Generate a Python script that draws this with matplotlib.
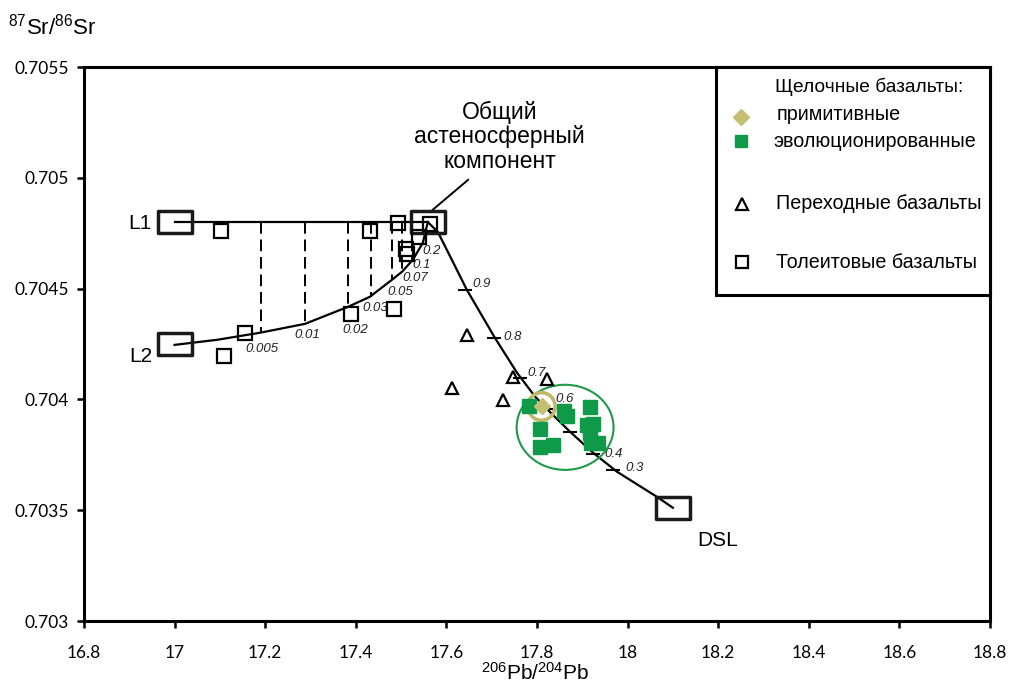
import matplotlib
matplotlib.use("Agg")
import matplotlib.pyplot as plt
from matplotlib.patches import Ellipse, Rectangle
from matplotlib.path import Path

plt.rcParams['font.family'] = ['Liberation Sans', 'DejaVu Sans']
plt.rcParams['mathtext.fontset'] = 'custom'
plt.rcParams['mathtext.rm'] = 'Liberation Sans'
plt.rcParams['mathtext.it'] = 'Liberation Sans:italic'

# --- end members -----------------------------------------------------------
end_names = ['L1', 'L2', 'common', 'DSL']
end_x = [17.00, 17.00, 17.559, 18.10]
end_y = [0.70480, 0.70425, 0.70480, 0.70351]

# --- mixing curve L2 -> common component ----------------------------------
l2_curve_x = [17.000, 17.094, 17.189, 17.288, 17.383, 17.431, 17.480, 17.502, 17.526, 17.548, 17.559]
l2_curve_y = [0.704246, 0.704269, 0.704301, 0.704341, 0.704418, 0.704463, 0.704540, 0.704576, 0.704630, 0.704707, 0.704800]

# mixing proportions marked on the L2 curve
mix_labels = ['0.005', '0.01', '0.02', '0.03', '0.05', '0.07', '0.1', '0.2']
mix_x = [17.191, 17.288, 17.383, 17.433, 17.480, 17.502, 17.523, 17.548]
mix_y = [0.704301, 0.704341, 0.704418, 0.704463, 0.704540, 0.704576, 0.704630, 0.704707]

# --- mixing curve common component -> DSL ---------------------------------
dsl_curve_x = [17.559, 17.581, 17.612, 17.645, 17.707, 17.756, 17.796, 17.835, 17.873, 17.924, 17.977, 18.065, 18.100]
dsl_curve_y = [0.704800, 0.704756, 0.704630, 0.704495, 0.704278, 0.704120, 0.704012, 0.703930, 0.703854, 0.703759, 0.703673, 0.703560, 0.703511]

dsl_labels = ['0.9', '0.8', '0.7', '0.6', '', '0.4', '0.3']
dsl_tick_x = [17.641, 17.705, 17.762, 17.822, 17.873, 17.924, 17.968]
dsl_tick_y = [0.704495, 0.704278, 0.704097, 0.703958, 0.703854, 0.703755, 0.703682]

# --- samples ---------------------------------------------------------------
prim_x = [17.810]
prim_y = [0.703968]

evol_x = [17.783, 17.860, 17.867, 17.917, 17.807, 17.807, 17.835, 17.911, 17.923, 17.917, 17.919, 17.935]
evol_y = [0.703968, 0.703949, 0.703927, 0.703965, 0.703866, 0.703783, 0.703795, 0.703885, 0.703890, 0.703848, 0.703803, 0.703803]

trans_x = [17.645, 17.613, 17.726, 17.748, 17.821]
trans_y = [0.704292, 0.704051, 0.703998, 0.704103, 0.704093]

thol_x = [17.102, 17.155, 17.108, 17.389, 17.431, 17.485, 17.494, 17.511, 17.513, 17.540, 17.564]
thol_y = [0.704758, 0.704299, 0.704194, 0.704386, 0.704762, 0.704407, 0.704796, 0.704678, 0.704657, 0.704732, 0.704792]

x_ticks = [16.8, 17.0, 17.2, 17.4, 17.6, 17.8, 18.0, 18.2, 18.4, 18.6, 18.8]
x_ticklabels = ['16.8', '17', '17.2', '17.4', '17.6', '17.8', '18', '18.2', '18.4', '18.6', '18.8']
y_ticks = [0.7030, 0.7035, 0.7040, 0.7045, 0.7050, 0.7055]
y_ticklabels = ['0.703', '0.7035', '0.704', '0.7045', '0.705', '0.7055']

legend_title = 'Щелочные базальты:'
legend_labels = ['примитивные', 'эволюционированные', 'Переходные базальты', 'Толеитовые базальты']

GREEN = '#0f9a4a'
OLIVE = '#c4bf72'

fig = plt.figure(figsize=(10.10, 6.85), dpi=100)
ax = fig.add_axes([84 / 1010, 64 / 685, 906 / 1010, 554 / 685])
ax.set_xlim(16.8, 18.8)
ax.set_ylim(0.7030, 0.7055)

for s in ax.spines.values():
    s.set_linewidth(2.2)
ax.tick_params(direction='out', length=5, width=1.8)
ax.tick_params(axis='x', pad=12)
ax.tick_params(axis='y', pad=6)
ax.set_xticks(x_ticks)
ax.set_xticklabels(x_ticklabels, family='Lato', fontsize=12.5)
ax.set_yticks(y_ticks)
ax.set_yticklabels(y_ticklabels, family='Lato', fontsize=12.5)

# wide open box marker for end members
box = Path([(-0.78, -0.5), (0.78, -0.5), (0.78, 0.5), (-0.78, 0.5), (-0.78, -0.5)],
           [Path.MOVETO, Path.LINETO, Path.LINETO, Path.LINETO, Path.CLOSEPOLY])

LW = 1.6
# L1 -> common component
ax.plot([end_x[0], end_x[2]], [end_y[0], end_y[2]], color='black', lw=LW, zorder=2)
# L2 -> common component
ax.plot(l2_curve_x, l2_curve_y, color='black', lw=LW, zorder=2)
# common component -> DSL
ax.plot(dsl_curve_x, dsl_curve_y, color='black', lw=LW, zorder=2)

# dashed mixing proportion lines between L1 line and L2 curve
for lab, mx, my in zip(mix_labels[:-1], mix_x[:-1], mix_y[:-1]):
    ax.plot([mx, mx], [end_y[0], my], color='black', lw=1.4, ls=(0, (6, 3)), zorder=2)

mix_offsets = [(1, -16), (2, -11), (7, -23), (5, -11), (8, -12), (13, -6), (10, -5), (9, -8)]
for lab, mx, my, off in zip(mix_labels, mix_x, mix_y, mix_offsets):
    ax.annotate(lab, (mx, my), xytext=off, textcoords='offset pixels',
                ha='center', va='center', fontsize=9.5, style='italic', color='#222222')

# proportion ticks on DSL curve
ax.plot(dsl_tick_x, dsl_tick_y, ls='none', marker='_', ms=10, mew=1.5, color='black', zorder=3)
dsl_offsets = [(17, 6), (19, 1), (17, 5), (18, 10), (0, 0), (20, 0), (22, 2)]
for lab, tx, ty, off in zip(dsl_labels, dsl_tick_x, dsl_tick_y, dsl_offsets):
    if lab:
        ax.annotate(lab, (tx, ty), xytext=off, textcoords='offset pixels',
                    ha='center', va='center', fontsize=9.5, style='italic', color='#222222')

# end member boxes
ax.plot(end_x, end_y, ls='none', marker=box, ms=24, mew=2.5, mfc='none', mec='#1a1a1a', zorder=4)

# field outlines
ax.add_patch(Ellipse((17.862, 0.703874), 0.214, 0.000384, fill=False, ec='#1e9a48', lw=1.5, zorder=3))
ax.add_patch(Ellipse((17.810, 0.703968), 0.060, 0.000125, fill=False, ec='#bdb86a', lw=2.6, zorder=3))

# samples
ax.plot(evol_x, evol_y, ls='none', marker='s', ms=9.5, mfc=GREEN, mec=GREEN, zorder=5)
ax.plot(prim_x, prim_y, ls='none', marker='D', ms=8.5, mfc=OLIVE, mec=OLIVE, zorder=6)
ax.plot(trans_x, trans_y, ls='none', marker='^', ms=8.5, mfc='none', mec='black', mew=1.6, zorder=5)
ax.plot(thol_x, thol_y, ls='none', marker='s', ms=9.5, mfc='none', mec='black', mew=1.6, zorder=5)

# end member labels
ax.text(16.95, 0.704792, 'L1', ha='right', va='center', fontsize=15)
ax.text(16.95, 0.704192, 'L2', ha='right', va='center', fontsize=15)
ax.text(18.153, 0.703362, 'DSL', ha='left', va='center', fontsize=15)
ax.text(17.718, 0.705185, 'Общий\nастеносферный\nкомпонент', ha='center', va='center',
        multialignment='center', fontsize=16.5, linespacing=1.08)
ax.plot([17.648, 17.570], [0.704991, 0.704856], color='black', lw=1.4, zorder=2)

# legend panel
ax.add_patch(Rectangle((0.6976, 0.5884), 0.3024, 0.4116, transform=ax.transAxes,
                       fill=True, fc='white', ec='black', lw=2.2, zorder=7, clip_on=False))
ax.text(0.7627, 0.9639, legend_title, transform=ax.transAxes, ha='left', va='center',
        fontsize=13.8, zorder=8)
leg_marker_x = [0.7252, 0.7252, 0.7263, 0.7263]
leg_marker_y = [0.9097, 0.8664, 0.7527, 0.6480]
leg_text_x = [0.7649, 0.7605, 0.7638, 0.7638]
leg_text_y = [0.9134, 0.8664, 0.7545, 0.6480]
leg_styles = [dict(marker='D', ms=8.5, mfc=OLIVE, mec=OLIVE),
              dict(marker='s', ms=8.5, mfc=GREEN, mec=GREEN),
              dict(marker='^', ms=8, mfc='none', mec='black', mew=1.6),
              dict(marker='s', ms=9, mfc='none', mec='black', mew=1.6)]
for mxp, myp, tx, ty, lab, st in zip(leg_marker_x, leg_marker_y, leg_text_x, leg_text_y,
                                     legend_labels, leg_styles):
    ax.plot([mxp], [myp], ls='none', transform=ax.transAxes, zorder=8, clip_on=False, **st)
    ax.text(tx, ty, lab, transform=ax.transAxes, ha='left', va='center', fontsize=14.2, zorder=8)

# axis titles
fig.text(8 / 1010, 1 - 27 / 685, r'$^{87}\mathrm{Sr}/^{86}\mathrm{Sr}$', ha='left', va='center', fontsize=16)
fig.text(535 / 1010, 1 - 662 / 685, r'$^{206}\mathrm{Pb}/^{204}\mathrm{Pb}$', ha='center', va='top', fontsize=15)

fig.savefig('out.png', dpi=100)
